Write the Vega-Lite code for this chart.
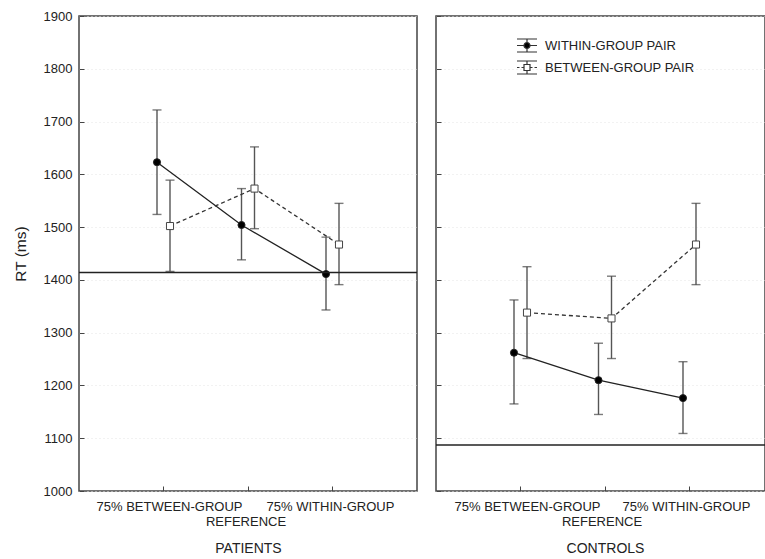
{
  "$schema": "https://vega.github.io/schema/vega-lite/v6.json",
  "padding": {"left": 12, "top": 9, "right": 0, "bottom": 0},
  "background": "white",
  "config": {
    "font": "Liberation Sans",
    "view": {"stroke": "#444", "strokeWidth": 1.5},
    "axis": {
      "labelFont": "Liberation Sans", "labelFontSize": 13, "labelColor": "#222",
      "titleFont": "Liberation Sans", "titleFontWeight": "normal", "titleFontSize": 14, "titleColor": "#222",
      "tickColor": "#444", "domain": false, "grid": false
    },
    "legend": {
      "labelFont": "Liberation Sans", "labelFontSize": 13, "labelColor": "#222",
      "symbolSize": 400, "symbolStrokeColor": "#333", "symbolStrokeWidth": 1, "symbolOpacity": 1,
      "padding": 0, "rowPadding": 2, "labelOffset": 7
    },
    "concat": {"spacing": 15}
  },
  "datasets": {
    "patients": [
      {"cond": "75% BETWEEN-GROUP", "pair": "WITHIN-GROUP PAIR", "mean": 1623, "lo": 1524, "hi": 1722},
      {"cond": "REFERENCE", "pair": "WITHIN-GROUP PAIR", "mean": 1504, "lo": 1438, "hi": 1573},
      {"cond": "75% WITHIN-GROUP", "pair": "WITHIN-GROUP PAIR", "mean": 1411, "lo": 1343, "hi": 1481},
      {"cond": "75% BETWEEN-GROUP", "pair": "BETWEEN-GROUP PAIR", "mean": 1502, "lo": 1416, "hi": 1589},
      {"cond": "REFERENCE", "pair": "BETWEEN-GROUP PAIR", "mean": 1573, "lo": 1497, "hi": 1652},
      {"cond": "75% WITHIN-GROUP", "pair": "BETWEEN-GROUP PAIR", "mean": 1467, "lo": 1391, "hi": 1545}
    ],
    "controls": [
      {"cond": "75% BETWEEN-GROUP", "pair": "WITHIN-GROUP PAIR", "mean": 1262, "lo": 1165, "hi": 1362},
      {"cond": "REFERENCE", "pair": "WITHIN-GROUP PAIR", "mean": 1210, "lo": 1145, "hi": 1280},
      {"cond": "75% WITHIN-GROUP", "pair": "WITHIN-GROUP PAIR", "mean": 1176, "lo": 1109, "hi": 1245},
      {"cond": "75% BETWEEN-GROUP", "pair": "BETWEEN-GROUP PAIR", "mean": 1338, "lo": 1251, "hi": 1425},
      {"cond": "REFERENCE", "pair": "BETWEEN-GROUP PAIR", "mean": 1327, "lo": 1251, "hi": 1407},
      {"cond": "75% WITHIN-GROUP", "pair": "BETWEEN-GROUP PAIR", "mean": 1467, "lo": 1391, "hi": 1545}
    ],
    "refs": [
      {"group": "PATIENTS", "ref": 1414},
      {"group": "CONTROLS", "ref": 1087}
    ]
  },
  "resolve": {
    "scale": {"x": "independent", "xOffset": "independent", "y": "independent"},
    "axis": {"x": "independent", "y": "independent"}
  },
  "hconcat": [
    {
      "width": 338,
      "height": 475,
      "layer": [
        {
          "data": {"name": "patients"},
          "encoding": {
            "x": {
              "field": "cond", "type": "nominal",
              "sort": ["75% BETWEEN-GROUP", "REFERENCE", "75% WITHIN-GROUP"],
              "scale": {"type": "band", "paddingInner": 0, "paddingOuter": 0.5},
              "axis": {
                "title": "PATIENTS", "labelAngle": 0, "tickSize": -5, "labelPadding": 14,
                "labelOverlap": false, "labelBound": false, "labelFlush": false, "labelLineHeight": 15,
                "labelExpr": "datum.value == 'REFERENCE' ? ['', 'REFERENCE'] : datum.value",
                "labelOffset": {"condition": {"test": "datum.value == '75% BETWEEN-GROUP'", "value": 6}, "value": -2},
                "titlePadding": 13
              }
            },
            "xOffset": {
              "field": "pair", "type": "nominal",
              "sort": ["WITHIN-GROUP PAIR", "BETWEEN-GROUP PAIR"],
              "scale": {"range": [29.25, 55.25], "paddingInner": 0, "paddingOuter": 0}
            }
          },
          "layer": [
            {
              "mark": {"type": "rule", "color": "#555", "strokeWidth": 1.4},
              "encoding": {
                "y": {"field": "lo", "type": "quantitative", "scale": {"domain": [1000, 1900], "nice": false},
                  "axis": {"title": "RT (ms)", "format": "d", "values": [1000, 1100, 1200, 1300, 1400, 1500, 1600, 1700, 1800, 1900],
                    "tickSize": -5, "labelPadding": 12, "grid": true, "gridDash": [1, 3], "gridColor": "#e4e4e4",
                    "titlePadding": 15, "titleFontSize": 15.5}},
                "y2": {"field": "hi"}
              }
            },
            {
              "mark": {"type": "tick", "color": "#444", "size": 9, "thickness": 1.4},
              "encoding": {"y": {"field": "lo", "type": "quantitative"}}
            },
            {
              "mark": {"type": "tick", "color": "#444", "size": 9, "thickness": 1.4},
              "encoding": {"y": {"field": "hi", "type": "quantitative"}}
            },
            {
              "transform": [{"filter": "datum.pair == 'WITHIN-GROUP PAIR'"}],
              "mark": {"type": "line", "color": "#222", "strokeWidth": 1.3},
              "encoding": {"y": {"field": "mean", "type": "quantitative"}}
            },
            {
              "transform": [{"filter": "datum.pair == 'BETWEEN-GROUP PAIR'"}],
              "mark": {"type": "line", "color": "#333", "strokeWidth": 1.3, "strokeDash": [4, 3]},
              "encoding": {"y": {"field": "mean", "type": "quantitative"}}
            },
            {
              "transform": [{"filter": "datum.pair == 'WITHIN-GROUP PAIR'"}],
              "mark": {"type": "point", "shape": "circle", "filled": true, "fill": "black", "size": 50, "stroke": "#222", "strokeWidth": 1, "opacity": 1},
              "encoding": {"y": {"field": "mean", "type": "quantitative"}}
            },
            {
              "transform": [{"filter": "datum.pair == 'BETWEEN-GROUP PAIR'"}],
              "mark": {"type": "point", "shape": "square", "filled": true, "fill": "white", "size": 50, "stroke": "#444", "strokeWidth": 1, "opacity": 1},
              "encoding": {"y": {"field": "mean", "type": "quantitative"}}
            }
          ]
        },
        {
          "data": {"name": "refs"},
          "transform": [{"filter": "datum.group == 'PATIENTS'"}],
          "mark": {"type": "rule", "color": "#222", "strokeWidth": 1.5},
          "encoding": {"y": {"field": "ref", "type": "quantitative"}}
        }
      ]
    },
    {
      "width": 329,
      "height": 475,
      "layer": [
        {
          "data": {"name": "controls"},
          "encoding": {
            "x": {
              "field": "cond", "type": "nominal",
              "sort": ["75% BETWEEN-GROUP", "REFERENCE", "75% WITHIN-GROUP"],
              "scale": {"type": "band", "paddingInner": 0, "paddingOuter": 0.5, "range": [0, 338]},
              "axis": {
                "title": "CONTROLS", "labelAngle": 0, "tickSize": -5, "labelPadding": 14,
                "labelOverlap": false, "labelBound": false, "labelFlush": false, "labelLineHeight": 15,
                "labelExpr": "datum.value == 'REFERENCE' ? ['', 'REFERENCE'] : datum.value",
                "labelOffset": {"condition": {"test": "datum.value == '75% BETWEEN-GROUP'", "value": 7}, "value": -3},
                "titlePadding": 13, "titleX": 169
              }
            },
            "xOffset": {
              "field": "pair", "type": "nominal",
              "sort": ["WITHIN-GROUP PAIR", "BETWEEN-GROUP PAIR"],
              "scale": {"range": [29.25, 55.25], "paddingInner": 0, "paddingOuter": 0}
            }
          },
          "layer": [
            {
              "mark": {"type": "rule", "color": "#555", "strokeWidth": 1.4},
              "encoding": {
                "y": {"field": "lo", "type": "quantitative", "scale": {"domain": [1000, 1900], "nice": false},
                  "axis": {"title": null, "labels": false, "values": [1000, 1100, 1200, 1300, 1400, 1500, 1600, 1700, 1800, 1900],
                    "tickSize": -5, "grid": true, "gridDash": [1, 3], "gridColor": "#e4e4e4"}},
                "y2": {"field": "hi"}
              }
            },
            {
              "mark": {"type": "tick", "color": "#444", "size": 9, "thickness": 1.4},
              "encoding": {"y": {"field": "lo", "type": "quantitative"}}
            },
            {
              "mark": {"type": "tick", "color": "#444", "size": 9, "thickness": 1.4},
              "encoding": {"y": {"field": "hi", "type": "quantitative"}}
            },
            {
              "transform": [{"filter": "datum.pair == 'WITHIN-GROUP PAIR'"}],
              "mark": {"type": "line", "color": "#222", "strokeWidth": 1.3},
              "encoding": {"y": {"field": "mean", "type": "quantitative"}}
            },
            {
              "transform": [{"filter": "datum.pair == 'BETWEEN-GROUP PAIR'"}],
              "mark": {"type": "line", "color": "#333", "strokeWidth": 1.3, "strokeDash": [4, 3]},
              "encoding": {"y": {"field": "mean", "type": "quantitative"}}
            },
            {
              "transform": [{"filter": "datum.pair == 'WITHIN-GROUP PAIR'"}],
              "mark": {"type": "point", "shape": "circle", "filled": true, "fill": "black", "size": 50, "stroke": "#222", "strokeWidth": 1, "opacity": 1},
              "encoding": {"y": {"field": "mean", "type": "quantitative"}}
            },
            {
              "transform": [{"filter": "datum.pair == 'BETWEEN-GROUP PAIR'"}],
              "mark": {"type": "point", "shape": "square", "filled": true, "fill": "white", "size": 50, "stroke": "#444", "strokeWidth": 1, "opacity": 1},
              "encoding": {"y": {"field": "mean", "type": "quantitative"}}
            },
            {
              "mark": {"type": "point", "filled": true, "size": 0, "stroke": "#333", "strokeWidth": 1},
              "encoding": {
                "y": {"field": "mean", "type": "quantitative"},
                "shape": {"field": "pair", "type": "nominal",
                  "scale": {"domain": ["WITHIN-GROUP PAIR", "BETWEEN-GROUP PAIR"],
                    "range": ["M-1,-0.65H1M-1,0.65H1M0,-0.65V-0.3M0,0.3V0.65M-1,0H-0.3M0.3,0H1M0.3,0A0.3,0.3 0 1,1 -0.3,0A0.3,0.3 0 1,1 0.3,0Z",
                              "M-1,-0.65H1M-1,0.65H1M0,-0.65V-0.3M0,0.3V0.65M-1,0H-0.75M-0.55,0H-0.3M0.3,0H0.55M0.75,0H1M-0.3,-0.3H0.3V0.3H-0.3Z"]},
                  "legend": {"title": null, "orient": "none", "legendX": 437, "legendY": 18.5,
                    "encode": {"symbols": {"update": {"stroke": {"value": "#333"}, "strokeWidth": {"value": 1.2}}}}}},
                "fill": {"field": "pair", "type": "nominal", "scale": {"domain": ["WITHIN-GROUP PAIR", "BETWEEN-GROUP PAIR"], "range": ["black", "white"]},
                  "legend": {"title": null, "orient": "none", "legendX": 437, "legendY": 18.5,
                    "encode": {"symbols": {"update": {"stroke": {"value": "#333"}, "strokeWidth": {"value": 1.2}}}}}}
              }
            }
          ]
        },
        {
          "data": {"name": "refs"},
          "transform": [{"filter": "datum.group == 'CONTROLS'"}],
          "mark": {"type": "rule", "color": "#222", "strokeWidth": 1.5},
          "encoding": {"y": {"field": "ref", "type": "quantitative"}}
        }
      ]
    }
  ]
}
